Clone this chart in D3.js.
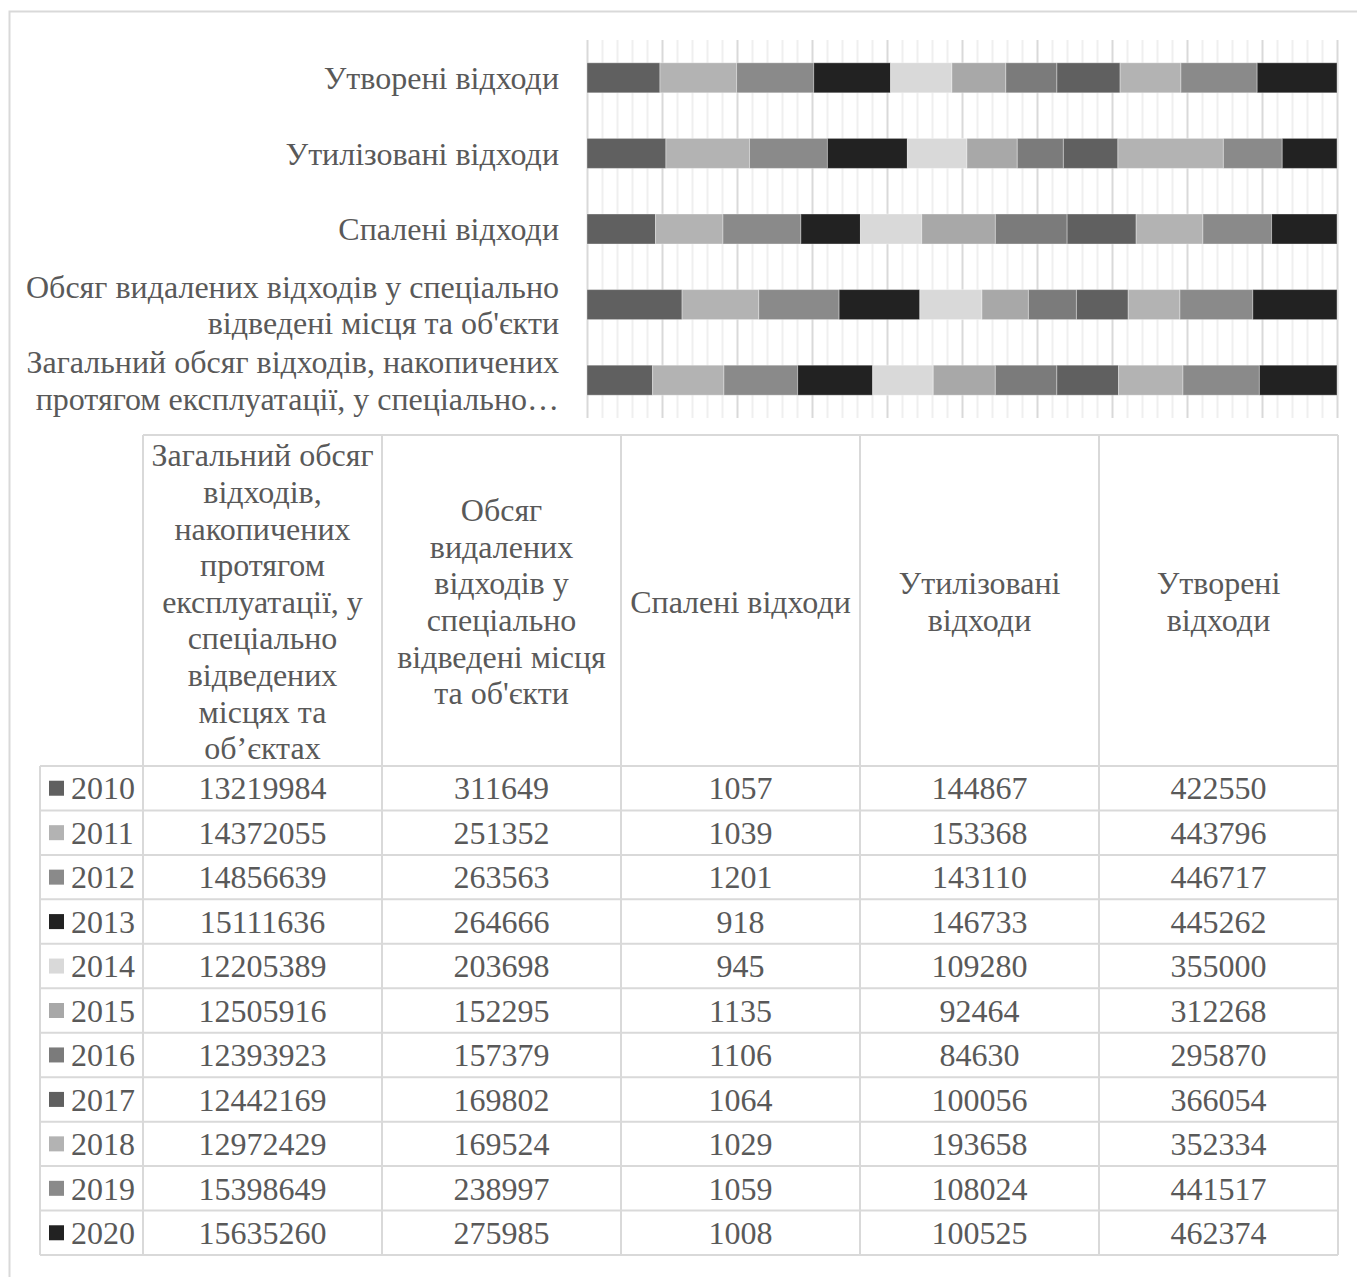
<!DOCTYPE html>
<html>
<head>
<meta charset="utf-8">
<script src="https://cdn.jsdelivr.net/npm/d3@7"></script>
<style>
  html, body { margin: 0; padding: 0; background: #fff; }
  svg { display: block; }
  text { font-family: "Liberation Serif", "Times New Roman", serif; fill: #595959; }
</style>
</head>
<body>
<script>
// ---------------- DATA ----------------
const years = ["2010","2011","2012","2013","2014","2015","2016","2017","2018","2019","2020"];
const categories = [
  "Загальний обсяг відходів, накопичених протягом експлуатації, у спеціально відведених місцях та об’єктах",
  "Обсяг видалених відходів у спеціально відведені місця та об'єкти",
  "Спалені відходи",
  "Утилізовані відходи",
  "Утворені відходи"
];
const totalAccumulated = [13219984,14372055,14856639,15111636,12205389,12505916,12393923,12442169,12972429,15398649,15635260];
const removedToSites   = [311649,251352,263563,264666,203698,152295,157379,169802,169524,238997,275985];
const burned           = [1057,1039,1201,918,945,1135,1106,1064,1029,1059,1008];
const utilized         = [144867,153368,143110,146733,109280,92464,84630,100056,193658,108024,100525];
const generated        = [422550,443796,446717,445262,355000,312268,295870,366054,352334,441517,462374];
const seriesByCategory = [totalAccumulated, removedToSites, burned, utilized, generated];

const yearColors = ["#606060","#b3b3b3","#8a8a8a","#222222","#d9d9d9","#a8a8a8","#7b7b7b","#606060","#b3b3b3","#8a8a8a","#222222"];

// axis label lines (as displayed)
const axisLabelLines = [
  ["Загальний обсяг відходів, накопичених","протягом експлуатації, у спеціально…"],
  ["Обсяг видалених відходів у спеціально","відведені місця та об'єкти"],
  ["Спалені відходи"],
  ["Утилізовані відходи"],
  ["Утворені відходи"]
];
// table header lines (as displayed)
const headerLines = [
  ["Загальний обсяг","відходів,","накопичених","протягом","експлуатації, у","спеціально","відведених","місцях та","об’єктах"],
  ["Обсяг","видалених","відходів у","спеціально","відведені місця","та об'єкти"],
  ["Спалені відходи"],
  ["Утилізовані","відходи"],
  ["Утворені","відходи"]
];

// ---------------- LAYOUT ----------------
const W = 1357, H = 1277;
const plot = {left: 587, right: 1337, top: 40, bottom: 418};
const gridColor = "#d9d9d9", minorColor = "#efefef";
const fontSize = 32, lineH = 36.6;

const svg = d3.select("body").append("svg").attr("width", W).attr("height", H);

// chart border
svg.append("rect").attr("x", 9.5).attr("y", 11.5).attr("width", W + 20).attr("height", H + 20)
  .attr("fill", "none").attr("stroke", gridColor).attr("stroke-width", 2);

// scales
const x = d3.scaleLinear().domain([0, 1]).range([plot.left, plot.right]);
// categories top-to-bottom reversed (Excel bar chart)
const yOrder = categories.map((c, i) => i).reverse();
const y = d3.scaleBand().domain(yOrder).range([plot.top, plot.bottom]).paddingInner(0.603).paddingOuter(0.3015);

// minor gridlines
svg.append("g").attr("transform", `translate(0,${plot.bottom})`)
  .call(d3.axisBottom(x).tickValues(d3.range(0, 1.0001, 0.02).filter((v, i) => i % 5 !== 0))
    .tickSize(-(plot.bottom - plot.top)).tickFormat(""))
  .call(g => g.select(".domain").remove())
  .call(g => g.selectAll("line").attr("stroke", minorColor).attr("stroke-width", 2));
// major gridlines
svg.append("g").attr("transform", `translate(0,${plot.bottom})`)
  .call(d3.axisBottom(x).tickValues(d3.range(0, 1.0001, 0.1))
    .tickSize(-(plot.bottom - plot.top)).tickFormat(""))
  .call(g => g.select(".domain").remove())
  .call(g => g.selectAll("line").attr("stroke", gridColor).attr("stroke-width", 2));

// stacked (normalized) data
const rows = categories.map((c, ci) => {
  const o = {cat: ci};
  years.forEach((yr, yi) => o[yr] = seriesByCategory[ci][yi]);
  return o;
});
const stack = d3.stack().keys(years).offset(d3.stackOffsetExpand);
const stacked = stack(rows);

svg.append("g").selectAll("g").data(stacked).join("g")
  .attr("fill", (d, i) => yearColors[i])
  .selectAll("rect").data(d => d).join("rect")
  .attr("x", d => x(d[0]))
  .attr("width", d => x(d[1]) - x(d[0]))
  .attr("y", d => y(d.data.cat))
  .attr("height", y.bandwidth())
  .attr("stroke", "rgba(255,255,255,0.35)")
  .attr("stroke-width", 1);

// category axis
const yAxis = svg.append("g").attr("transform", `translate(${plot.left},0)`)
  .call(d3.axisLeft(y).tickSize(0).tickPadding(28).tickFormat(() => ""));
yAxis.select(".domain").remove();
yAxis.selectAll(".tick").each(function(ci) {
  const lines = axisLabelLines[ci];
  const t = d3.select(this).select("text").text(null)
    .attr("font-size", fontSize).attr("text-anchor", "end").attr("dy", null)
    .style("font-family", "'Liberation Serif', serif").attr("fill", "#595959");
  const off = -(lines.length - 1) / 2 * lineH;
  lines.forEach((ln, k) => {
    t.append("tspan").attr("x", -28).attr("y", off + k * lineH).attr("dy", "0.35em").text(ln);
  });
});

// ---------------- DATA TABLE ----------------
const table = {left: 40, keyRight: 143, right: 1338, headTop: 435, headBottom: 766, bottom: 1255};
const col = d3.scaleBand().domain(d3.range(categories.length)).range([table.keyRight, table.right]);
const row = d3.scaleBand().domain(years).range([table.headBottom, table.bottom]);
const tg = svg.append("g");

// header text
headerLines.forEach((lines, ci) => {
  const cx = col(ci) + col.bandwidth() / 2;
  const cy = (table.headTop + table.headBottom) / 2 + 1;
  const t = tg.append("text").attr("font-size", fontSize).attr("text-anchor", "middle");
  lines.forEach((ln, k) => {
    t.append("tspan").attr("x", cx).attr("y", cy + (k - (lines.length - 1) / 2) * lineH)
      .attr("dy", "0.35em").text(ln);
  });
});

// body cells
years.forEach((yr, yi) => {
  const cy = row(yr) + row.bandwidth() / 2;
  tg.append("rect").attr("x", 49).attr("y", cy - 7.5).attr("width", 15).attr("height", 15)
    .attr("fill", yearColors[yi]);
  tg.append("text").attr("x", 71).attr("y", cy).attr("dy", "0.35em")
    .attr("font-size", fontSize).text(yr);
  categories.forEach((c, ci) => {
    tg.append("text").attr("x", col(ci) + col.bandwidth() / 2).attr("y", cy).attr("dy", "0.35em")
      .attr("text-anchor", "middle").attr("font-size", fontSize)
      .text(seriesByCategory[ci][yi]);
  });
});

// grid lines of table
const lg = tg.append("g").attr("stroke", gridColor).attr("stroke-width", 2);
lg.append("line").attr("x1", table.keyRight).attr("x2", table.right).attr("y1", table.headTop).attr("y2", table.headTop);
years.forEach(yr => {
  lg.append("line").attr("x1", table.left).attr("x2", table.right).attr("y1", row(yr)).attr("y2", row(yr));
});
lg.append("line").attr("x1", table.left).attr("x2", table.right).attr("y1", table.bottom).attr("y2", table.bottom);
lg.append("line").attr("x1", table.left).attr("x2", table.left).attr("y1", table.headBottom).attr("y2", table.bottom);
d3.range(categories.length).forEach(ci => {
  lg.append("line").attr("x1", col(ci)).attr("x2", col(ci)).attr("y1", table.headTop).attr("y2", table.bottom);
});
lg.append("line").attr("x1", table.right).attr("x2", table.right).attr("y1", table.headTop).attr("y2", table.bottom);
</script>
</body>
</html>
